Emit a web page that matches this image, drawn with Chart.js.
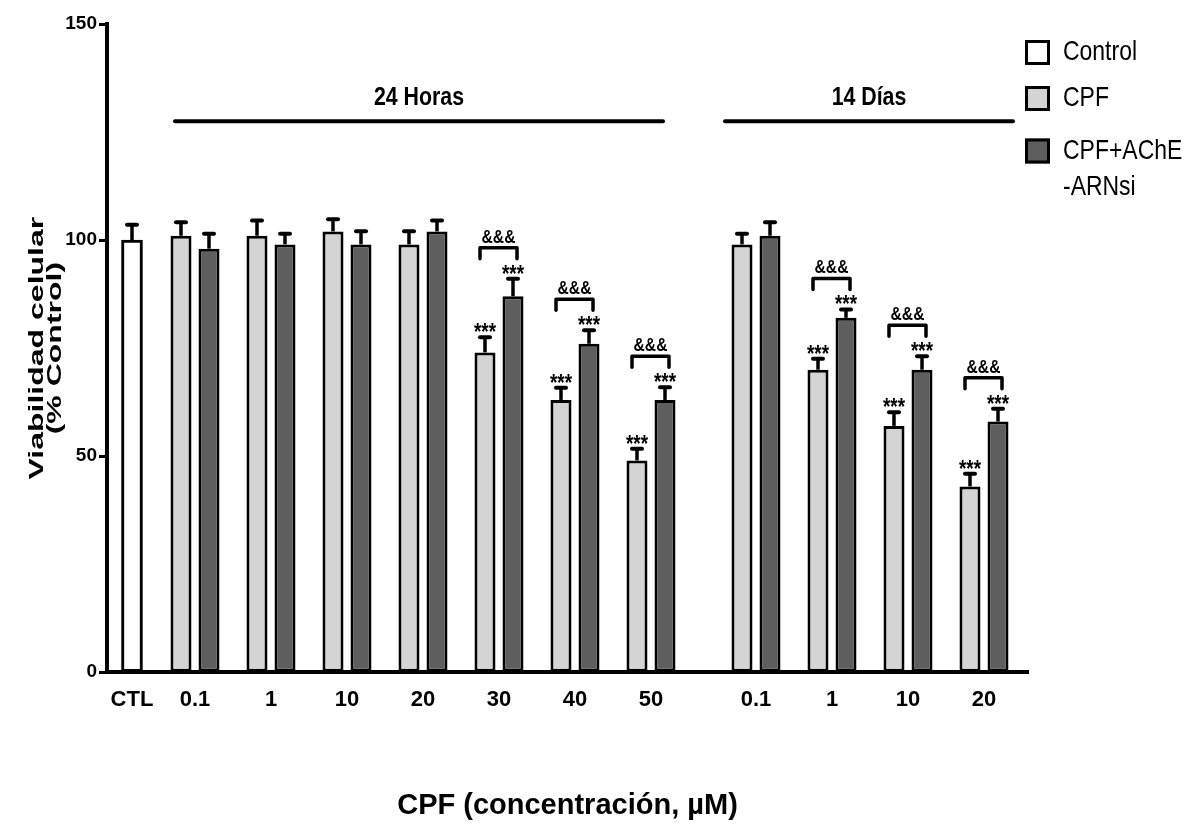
<!DOCTYPE html>
<html>
<head>
<meta charset="utf-8">
<script src="https://cdn.jsdelivr.net/npm/chart.js@4.4.1/dist/chart.umd.min.js"></script>
<style>
  html, body { margin: 0; padding: 0; background: #ffffff; }
  #wrap { width: 1195px; height: 830px; }
</style>
</head>
<body>
<div id="wrap"><canvas id="chart" width="1195" height="830"></canvas></div>
<script>
// ---------- data ----------
const ctlLabels    = ['CTL'];
const doses24h     = ['0.1', '1', '10', '20', '30', '40', '50'];
const doses14d     = ['0.1', '1', '10', '20'];
const periodLabels = ['24 Horas', '14 Días'];
const seriesNames  = ['Control', 'CPF', 'CPF+AChE -ARNsi'];
const yTickValues  = [0, 50, 100, 150];

const ctlValues   = [100];
const ctlSem      = [4];

const cpf24h      = [101, 101, 102, 99, 74, 63, 49];
const cpf24hSem   = [3.6, 4, 3.3, 3.5, 4, 3.3, 3.2];
const ache24h     = [98, 99, 99, 102, 87, 76, 63];
const ache24hSem  = [3.9, 2.9, 3.5, 3, 4.5, 3.6, 3.4];

const cpf14d      = [99, 70, 57, 43];
const cpf14dSem   = [2.9, 3, 3.6, 3.4];
const ache14d     = [101, 82, 70, 58];
const ache14dSem  = [3.6, 2.4, 3.6, 3.4];

const starsCpf24h  = ['', '', '', '', '***', '***', '***'];
const starsAche24h = ['', '', '', '', '***', '***', '***'];
const pairMark24h  = ['', '', '', '', '&&&', '&&&', '&&&'];
const starsCpf14d  = ['', '***', '***', '***'];
const starsAche14d = ['', '***', '***', '***'];
const pairMark14d  = ['', '&&&', '&&&', '&&&'];

// ---------- styles ----------
const SANS = "'Liberation Sans', Arial, Helvetica, sans-serif";
const NARROW_X = 0.82;              // horizontal squeeze that imitates a narrow face
const BLACK = '#000000';
const WHITE = '#ffffff';
const LIGHT = '#d4d4d4';
const DARK = '#5e5e5e';

const barStyle = {
  indexAxis: 'x',
  borderColor: BLACK,
  borderWidth: 3,
  borderSkipped: false,
  yAxisID: 'y',
  categoryPercentage: 0.737,
  barPercentage: 0.75
};

function narrowText(ctx, text, x, y, font, align, baseline) {
  ctx.save();
  ctx.translate(x, y);
  ctx.scale(NARROW_X, 1);
  ctx.font = font;
  ctx.textAlign = align;
  ctx.textBaseline = baseline;
  ctx.fillText(text, 0, 0);
  ctx.restore();
}

// ---------- plugins ----------
const annotatePlugin = {
  id: 'annotate',
  afterDatasetsDraw(chart, args, opts) {
    const ctx = chart.ctx;
    const ys = chart.scales.y;
    ctx.save();
    ctx.strokeStyle = BLACK;
    ctx.fillStyle = BLACK;
    const tops = [];
    chart.data.datasets.forEach((ds, di) => {
      const meta = chart.getDatasetMeta(di);
      tops[di] = [];
      meta.data.forEach((bar, i) => {
        const top = ys.getPixelForValue(ds.data[i] + ds.sem[i]);
        tops[di][i] = top;
        ctx.lineCap = 'butt';
        ctx.lineWidth = 3.5;
        ctx.beginPath();
        ctx.moveTo(bar.x, bar.y);
        ctx.lineTo(bar.x, top + 2);
        ctx.stroke();
        ctx.lineCap = 'round';
        ctx.lineWidth = 4;
        ctx.beginPath();
        ctx.moveTo(bar.x - 5, top + 2);
        ctx.lineTo(bar.x + 5, top + 2);
        ctx.stroke();
        if (ds.stars && ds.stars[i]) {
          narrowText(ctx, ds.stars[i], bar.x, top + 5, 'bold 23px ' + SANS, 'center', 'alphabetic');
        }
      });
    });
    // brackets between the two treatments of a dose
    chart.data.datasets.forEach((ds, di) => {
      if (!ds.pair) return;
      const m1 = chart.getDatasetMeta(di - 1);
      const m2 = chart.getDatasetMeta(di);
      ds.pair.forEach((mark, i) => {
        if (!mark) return;
        const x1 = m1.data[i].x - 5;
        const x2 = m2.data[i].x + 4;
        const ly = tops[di][i] - 29;
        ctx.lineWidth = 3.5;
        ctx.lineCap = 'round';
        ctx.lineJoin = 'round';
        ctx.beginPath();
        ctx.moveTo(x1, ly + 11);
        ctx.lineTo(x1, ly);
        ctx.lineTo(x2, ly);
        ctx.lineTo(x2, ly + 11);
        ctx.stroke();
        narrowText(ctx, mark, (x1 + x2) / 2, ly - 5, 'bold 19px ' + SANS, 'center', 'alphabetic');
      });
    });
    // period headers
    opts.periods.forEach((p, k) => {
      const sc = chart.scales[p.axis];
      const n = sc.getLabels().length;
      const x1 = sc.getPixelForValue(0) - p.padL;
      const x2 = sc.getPixelForValue(n - 1) + p.padR;
      const ly = ys.getPixelForValue(opts.lineValue);
      ctx.lineWidth = 4;
      ctx.lineCap = 'round';
      ctx.beginPath();
      ctx.moveTo(x1, ly);
      ctx.lineTo(x2, ly);
      ctx.stroke();
      narrowText(ctx, periodLabels[k], (x1 + x2) / 2, ly - 16, 'bold 26px ' + SANS, 'center', 'alphabetic');
    });
    ctx.restore();
  }
};

const yTitlePlugin = {
  id: 'yTitle',
  afterDraw(chart, args, opts) {
    const ctx = chart.ctx;
    const cy = (chart.chartArea.top + chart.chartArea.bottom) / 2;
    ctx.save();
    ctx.fillStyle = BLACK;
    opts.lines.forEach((line, k) => {
      ctx.save();
      ctx.translate(opts.x[k], cy);
      ctx.rotate(-Math.PI / 2);
      ctx.scale(opts.stretch, 1);
      ctx.font = 'bold 20px ' + SANS;
      ctx.textAlign = 'center';
      ctx.textBaseline = 'alphabetic';
      ctx.fillText(line, 0, 0);
      ctx.restore();
    });
    ctx.restore();
  }
};

const boxLegendPlugin = {
  id: 'boxLegend',
  afterDraw(chart, args, opts) {
    const ctx = chart.ctx;
    const items = [];
    chart.data.datasets.forEach(ds => {
      if (!items.find(it => it.label === ds.label)) items.push({ label: ds.label, color: ds.backgroundColor });
    });
    ctx.save();
    items.forEach((item, k) => {
      const cy = opts.centers[k];
      const s = opts.box;
      ctx.fillStyle = item.color;
      ctx.fillRect(opts.x, cy - s / 2, s, s);
      ctx.lineWidth = 3;
      ctx.strokeStyle = BLACK;
      ctx.strokeRect(opts.x + 1.5, cy - s / 2 + 1.5, s - 3, s - 3);
      ctx.fillStyle = BLACK;
      item.label.split(' ').forEach((line, j) =>
        narrowText(ctx, line, opts.textX, cy + j * opts.lineGap, '28px ' + SANS, 'left', 'middle'));
    });
    ctx.restore();
  }
};

// ---------- axes ----------
const xBorder = { display: true, color: BLACK, width: 4, z: 1 };
const xGrid = { display: false, drawTicks: false, offset: true };
const xFit = s => { s.height = 60; };
const xTicks = { color: BLACK, font: { family: SANS, size: 22, weight: 'bold' }, padding: 15, maxRotation: 0, autoSkip: false };

const chart = new Chart(document.getElementById('chart'), {
  type: 'bar',
  data: {
    datasets: [
      Object.assign({ label: seriesNames[0], data: ctlValues, xAxisID: 'xCtl', backgroundColor: WHITE, sem: ctlSem }, barStyle, { barThickness: 21 }),
      Object.assign({ label: seriesNames[1], data: cpf24h, xAxisID: 'xA', backgroundColor: LIGHT, sem: cpf24hSem, stars: starsCpf24h }, barStyle),
      Object.assign({ label: seriesNames[2], data: ache24h, xAxisID: 'xA', backgroundColor: DARK, sem: ache24hSem, stars: starsAche24h, pair: pairMark24h }, barStyle),
      Object.assign({ label: seriesNames[1], data: cpf14d, xAxisID: 'xB', backgroundColor: LIGHT, sem: cpf14dSem, stars: starsCpf14d }, barStyle),
      Object.assign({ label: seriesNames[2], data: ache14d, xAxisID: 'xB', backgroundColor: DARK, sem: ache14dSem, stars: starsAche14d, pair: pairMark14d }, barStyle)
    ]
  },
  options: {
    // each dataset is vertical (indexAxis 'x'); the chart-level value keeps bars of the
    // three side-by-side category axes from being grouped across axes
    indexAxis: 'y',
    responsive: false,
    animation: false,
    devicePixelRatio: 1,
    events: [],
    layout: { padding: { top: 24, right: 167, bottom: 0, left: 0 } },
    scales: {
      xCtl: { type: 'category', labels: ctlLabels, offset: true, position: 'bottom', stack: 'xs', stackWeight: 50,
              grid: xGrid, border: xBorder, ticks: xTicks, afterFit: xFit },
      xA:   { type: 'category', labels: doses24h, offset: true, position: 'bottom', stack: 'xs', stackWeight: 532,
              grid: xGrid, border: xBorder, ticks: xTicks, afterFit: xFit },
      xGap: { type: 'linear', min: 0, max: 1, offset: false, position: 'bottom', stack: 'xs', stackWeight: 29,
              grid: { display: false, drawTicks: false }, border: xBorder, ticks: { display: false }, afterFit: xFit },
      xB:   { type: 'category', labels: doses14d, offset: true, position: 'bottom', stack: 'xs', stackWeight: 304,
              grid: xGrid, border: xBorder, ticks: xTicks, afterFit: xFit },
      xEnd: { type: 'linear', min: 0, max: 1, offset: false, position: 'bottom', stack: 'xs', stackWeight: 6,
              grid: { display: false, drawTicks: false }, border: xBorder, ticks: { display: false }, afterFit: xFit },
      y: {
        type: 'linear', position: 'left', min: 0, max: 150, offset: false,
        afterBuildTicks: s => { s.ticks = yTickValues.map(v => ({ value: v })); },
        afterFit: s => { s.width = 107; },
        grid: { display: true, offset: false, drawOnChartArea: false, drawTicks: true, tickLength: 8, tickWidth: 3, tickColor: BLACK, color: BLACK },
        border: { display: true, color: BLACK, width: 4, z: 1 },
        ticks: { color: BLACK, padding: 2, font: { family: SANS, size: 19, weight: 'bold' } },
        title: { display: false }
      }
    },
    plugins: {
      legend: { display: false },
      tooltip: { enabled: false },
      title: {
        display: true,
        text: 'CPF (concentración, µM)',
        position: 'bottom',
        fullSize: false,
        color: BLACK,
        font: { family: SANS, size: 29, weight: 'bold', lineHeight: 1.2 },
        padding: { top: 56, bottom: 7 }
      },
      annotate: {
        lineValue: 127.5,
        periods: [ { axis: 'xA', padL: 20, padR: 12 }, { axis: 'xB', padL: 31, padR: 29 } ]
      },
      yTitle: { lines: ['Viabilidad celular', '(% Control)'], x: [43, 61], stretch: 1.6 },
      boxLegend: { x: 1025, box: 25, textX: 1063, centers: [52.5, 98.5, 151], lineGap: 36 }
    }
  },
  plugins: [annotatePlugin, yTitlePlugin, boxLegendPlugin]
});
</script>
</body>
</html>
